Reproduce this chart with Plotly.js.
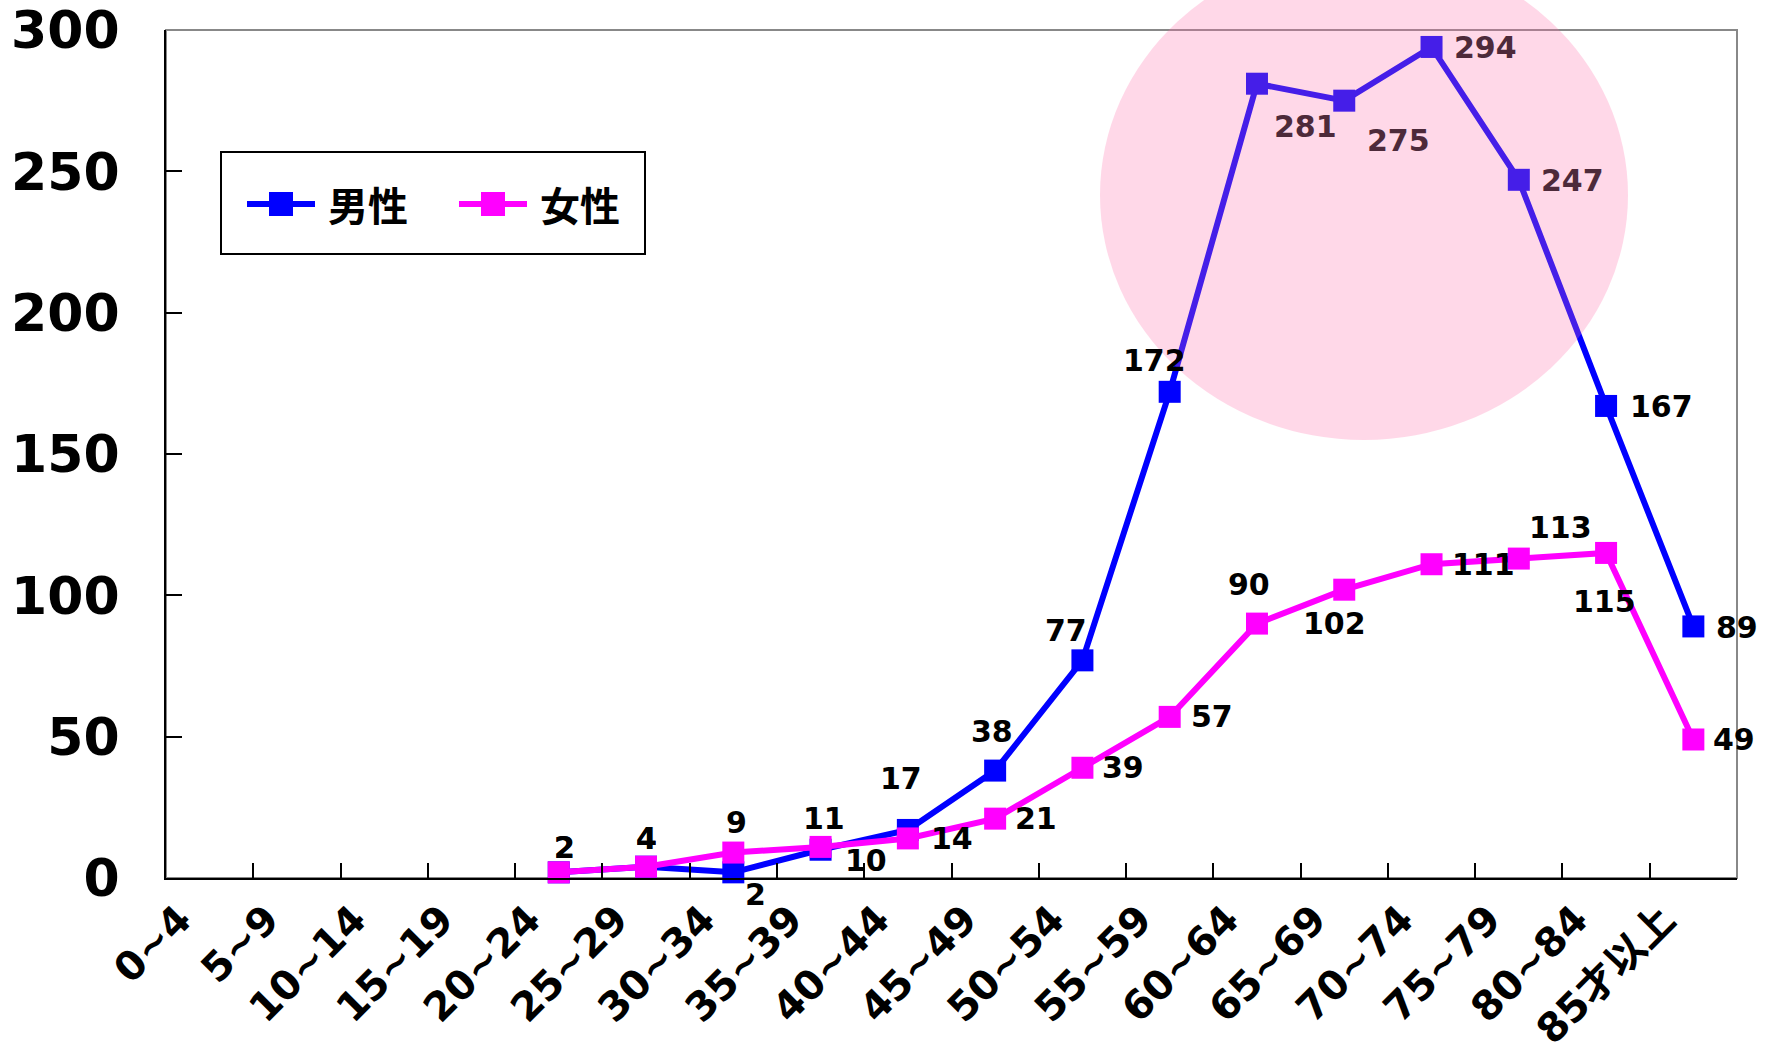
<!DOCTYPE html>
<html>
<head>
<meta charset="utf-8">
<script src="https://cdn.plot.ly/plotly-3.0.1.min.js"></script>
<style>html,body{margin:0;padding:0;background:#fff;}#chart{width:1771px;height:1063px;}</style>
</head>
<body>
<div id="chart"></div>
<script>
const categories = ["0~4","5~9","10~14","15~19","20~24","25~29","30~34","35~39","40~44","45~49","50~54","55~59","60~64","65~69","70~74","75~79","80~84","85才以上"];
const maleValues = [null,null,null,null,2,4,2,10,17,38,77,172,281,275,294,247,167,89];
const femaleValues = [null,null,null,null,2,4,9,11,14,21,39,57,90,102,111,113,115,49];
const seriesNames = ["男性","女性"];
const yTicks = [0,50,100,150,200,250,300];

// label offsets (px) relative to each point: [xshift, yshift]
const maleLabelOffset = [null,null,null,null,[6,25],[0,28],[22,-22],[45,-11],[-7,51],[-3,39],[-16,30],[-15,31],[49,-43],[54,-40],[54,-1],[54,-1],[55,-1],[44,-1]];
const femaleLabelOffset = [null,null,null,null,[6,25],[0,28],[3,30],[3,28],[44,0],[41,0],[41,0],[42,0],[-8,39],[-10,-34],[52,0],[42,31],[-2,-49],[41,0]];

const FONT = "DejaVu Sans, Noto Sans CJK JP, sans-serif";
const CJK = "Noto Sans CJK JP, sans-serif";
const BLUE = "#0000ff", PINK = "#ff00ff";

// plot area in pixels
const M = {l: 166, r: 34, t: 30, b: 185};
const W = 1771, H = 1063;
const PW = W - M.l - M.r, PH = H - M.t - M.b;
const px = x => (x - M.l) / PW;
const py = y => (H - M.b - y) / PH;

// ellipse (highlight) in pixels
const ELL = {x0: 1100, x1: 1628, y0: -50, y1: 440};
function insideEllipse(cx, cy) {
  const ex = (ELL.x0 + ELL.x1) / 2, ey = (ELL.y0 + ELL.y1) / 2;
  const rx = (ELL.x1 - ELL.x0) / 2, ry = (ELL.y1 - ELL.y0) / 2;
  return ((cx - ex) / rx) ** 2 + ((cy - ey) / ry) ** 2 < 1;
}
const catX = i => M.l + (i + 0.5) * PW / categories.length;
const valY = v => H - M.b - v / 300 * PH;

const traces = [
  {
    name: seriesNames[0], type: "scatter", mode: "lines+markers",
    x: categories, y: maleValues,
    line: {color: BLUE, width: 6},
    marker: {symbol: "square", size: 22, color: BLUE},
    connectgaps: false, cliponaxis: false, hoverinfo: "skip"
  },
  {
    name: seriesNames[1], type: "scatter", mode: "lines+markers",
    x: categories, y: femaleValues,
    line: {color: PINK, width: 6},
    marker: {symbol: "square", size: 22, color: PINK},
    connectgaps: false, cliponaxis: false, hoverinfo: "skip"
  }
];

const annotations = [];
function addLabels(values, offsets) {
  values.forEach((v, i) => {
    if (v === null) return;
    const [dx, dy] = offsets[i];
    const inside = insideEllipse(catX(i) + dx, valY(v) - dy);
    annotations.push({
      x: categories[i], y: v, xref: "x", yref: "y", text: String(v),
      showarrow: false, xanchor: "center", yanchor: "middle",
      xshift: dx, yshift: dy,
      font: {family: FONT, size: 30, weight: "bold", color: inside ? "#4d2a3a" : "#000"}
    });
  });
}
addLabels(maleValues, maleLabelOffset);
addLabels(femaleValues, femaleLabelOffset);

// legend (drawn manually to match the symbol sizes)
const legendItems = [
  {name: seriesNames[0], color: BLUE, lx0: 247, lx1: 315, tx: 326},
  {name: seriesNames[1], color: PINK, lx0: 459, lx1: 527, tx: 538}
];
const LEG_Y = 204;
const shapes = [
  {type: "rect", xref: "paper", yref: "paper", x0: 0, x1: 1, y0: 0, y1: 1,
   line: {color: "#888888", width: 2}, layer: "below"},
  {type: "circle", xref: "paper", yref: "paper", x0: px(ELL.x0), x1: px(ELL.x1), y0: py(ELL.y1), y1: py(ELL.y0),
   fillcolor: "rgba(255,110,170,0.27)", line: {width: 0}, layer: "above"},
  {type: "rect", xref: "paper", yref: "paper", x0: px(221), x1: px(645), y0: py(254), y1: py(152),
   line: {color: "#000", width: 2}, fillcolor: "#ffffff", layer: "above"}
];
legendItems.forEach(it => {
  shapes.push({type: "line", xref: "paper", yref: "paper", x0: px(it.lx0), x1: px(it.lx1), y0: py(LEG_Y), y1: py(LEG_Y),
    line: {color: it.color, width: 6}, layer: "above"});
  const mc = (it.lx0 + it.lx1) / 2;
  shapes.push({type: "rect", xref: "paper", yref: "paper", x0: px(mc - 12), x1: px(mc + 12), y0: py(LEG_Y + 12), y1: py(LEG_Y - 12),
    line: {width: 0}, fillcolor: it.color, layer: "above"});
  annotations.push({xref: "paper", yref: "paper", x: px(it.tx), y: py(LEG_Y), text: it.name, showarrow: false,
    xanchor: "left", yanchor: "middle", font: {family: CJK, size: 40, weight: "bold", color: "#000"}});
});

const layout = {
  width: W, height: H,
  margin: {l: M.l, r: M.r, t: M.t, b: M.b, pad: 0},
  paper_bgcolor: "#fff", plot_bgcolor: "#fff",
  font: {family: FONT, color: "#000"},
  showlegend: false,
  xaxis: {
    type: "category", categoryorder: "array", categoryarray: categories,
    range: [-0.5, categories.length - 0.5],
    tickson: "boundaries", ticks: "inside", ticklen: 15, tickwidth: 2, tickcolor: "#000",
    showline: true, linecolor: "#000", linewidth: 2, showgrid: false, zeroline: false,
    tickangle: -45,
    tickfont: {family: FONT, size: 40, weight: "bold", color: "#000"},
    ticklabelshift: -30, ticklabelstandoff: 0
  },
  yaxis: {
    range: [0, 300], tickvals: yTicks, ticktext: yTicks.map(String),
    ticks: "inside", ticklen: 16, tickwidth: 2, tickcolor: "#000",
    showline: true, linecolor: "#000", linewidth: 2, showgrid: false, zeroline: false,
    tickfont: {family: FONT, size: 52, weight: "bold", color: "#000"},
    ticklabelstandoff: 34
  },
  shapes: shapes,
  annotations: annotations
};

Plotly.newPlot("chart", traces, layout, {staticPlot: true, displayModeBar: false});
</script>
</body>
</html>
